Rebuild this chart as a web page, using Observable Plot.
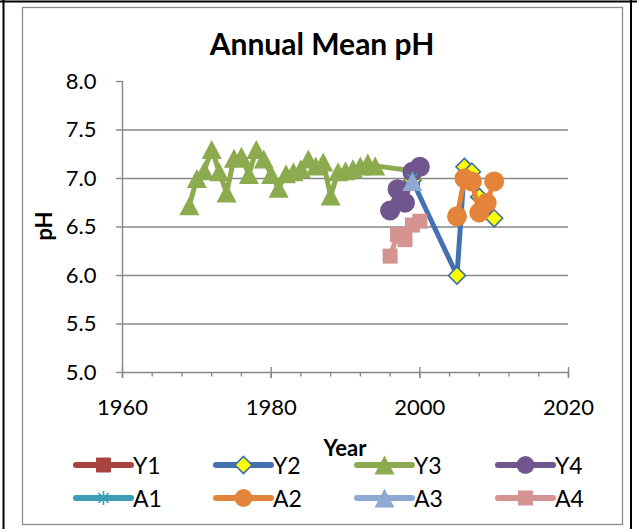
<!DOCTYPE html>
<html><head><meta charset="utf-8">
<script src="https://cdn.jsdelivr.net/npm/d3@7"></script>
<script src="https://cdn.jsdelivr.net/npm/@observablehq/plot@0.6"></script>
<style>
body{margin:0;background:#fff}
#wrap{position:relative;width:637px;height:529px;overflow:hidden;font-family:Lato,sans-serif}
#wrap svg{position:absolute;left:0;top:0}
</style></head><body><div id="wrap"></div>
<script>
// ---- data ----
const seriesNames = ["Y1","Y2","Y3","Y4","A1","A2","A3","A4"];
const y1Years = [1999];
const y1PH    = [6.98];
const y2Years = [1999, 2005, 2006, 2007, 2008, 2010];
const y2PH    = [6.98, 6.00, 7.12, 7.07, 6.81, 6.59];
const y3Years = [1969,1970,1971,1972,1973,1974,1975,1976,1977,1978,1979,1980,1981,1982,1983,1984,1985,1986,1987,1988,1989,1990,1991,1992,1993,1994,1999];
const y3PH    = [6.72,7.00,7.08,7.30,7.07,6.85,7.21,7.23,7.04,7.30,7.20,7.04,6.90,7.05,7.07,7.10,7.20,7.13,7.17,6.82,7.07,7.08,7.10,7.13,7.16,7.13,7.08];
const y4Years = [1996, 1997, 1998, 1999, 2000];
const y4PH    = [6.67, 6.89, 6.75, 7.07, 7.12];
const a1Years = [1999];
const a1PH    = [7.00];
const a2Years = [2005, 2006, 2007, 2008, 2009, 2010];
const a2PH    = [6.61, 7.00, 6.97, 6.65, 6.75, 6.97];
const a3Years = [1999];
const a3PH    = [6.97];
const a4Years = [1996, 1997, 1998, 1999, 2000];
const a4PH    = [6.20, 6.42, 6.37, 6.52, 6.56];
const xTickLabels = [1960, 1980, 2000, 2020];
const xMinorTicks = [1964,1968,1972,1976,1984,1988,1992,1996,2004,2008,2012,2016];
const yTickLabels = [5.0, 5.5, 6.0, 6.5, 7.0, 7.5, 8.0];
const yGridLines  = [5.5, 6.0, 6.5, 7.0, 7.5];
const titleText = "Annual Mean pH";
const xLabel = "Year";
const yLabel = "pH";

// ---- symbols ----
const rad = s => Math.sqrt(s / Math.PI);
const SYM = {
  square: {draw(c, s){const r = rad(s); c.rect(-r, -r, 2*r, 2*r);}},
  diamond:{draw(c, s){const r = rad(s); c.moveTo(0,-r); c.lineTo(r,0); c.lineTo(0,r); c.lineTo(-r,0); c.closePath();}},
  triangle:{draw(c, s){const r = rad(s); c.moveTo(0,-r*0.95); c.lineTo(r,r*0.95); c.lineTo(-r,r*0.95); c.closePath();}},
  circle: {draw(c, s){const r = rad(s); c.moveTo(r,0); c.arc(0,0,r,0,2*Math.PI);}},
  asterisk:{draw(c, s){const r = rad(s); const d = r*0.72;
    c.moveTo(0,-r); c.lineTo(0,r); c.moveTo(-d,-d); c.lineTo(d,d); c.moveTo(-d,d); c.lineTo(d,-d);}}
};

// ---- styles ----
const styles = {
  Y1:{line:"#A9433F", symbol:"square",  r:7,   fill:"#A9433F", stroke:"#A9433F", sw:1},
  Y2:{line:"#4472B1", symbol:"diamond", r:8.5, fill:"#FFFF00", stroke:"#3C6DAE", sw:1.6},
  Y3:{line:"#8CAA4E", symbol:"triangle",r:10,  fill:"#8CAA4E", stroke:"none",    sw:0},
  Y4:{line:"#70558F", symbol:"circle",  r:10,  fill:"#70558F", stroke:"none",    sw:0},
  A1:{line:"#3D9DB6", symbol:"asterisk",r:7,   fill:"none",    stroke:"#3D9DB6", sw:1.6},
  A2:{line:"#E3843A", symbol:"circle",  r:10,  fill:"#E3843A", stroke:"none",    sw:0},
  A3:{line:"#8EAAD3", symbol:"triangle",r:10,  fill:"#8EAAD3", stroke:"none",    sw:0},
  A4:{line:"#D59391", symbol:"square",  r:7.5, fill:"#D59391", stroke:"none",    sw:0}
};
const seriesData = {
  Y1:[y1Years,y1PH], Y2:[y2Years,y2PH], Y3:[y3Years,y3PH], Y4:[y4Years,y4PH],
  A1:[a1Years,a1PH], A2:[a2Years,a2PH], A3:[a3Years,a3PH], A4:[a4Years,a4PH]
};

const grey = "#878787";
const seriesMarks = seriesNames.flatMap(name => {
  const [yrs, vals] = seriesData[name];
  const st = styles[name];
  const rows = yrs.map((y, i) => ({year: y, ph: vals[i], series: name}));
  return [
    Plot.line(rows, {x:"year", y:"ph", stroke: st.line, strokeWidth: 5, strokeLinejoin:"round", strokeLinecap:"round"}),
    Plot.dot(rows, {x:"year", y:"ph", symbol: SYM[st.symbol], r: st.r, fill: st.fill, stroke: st.stroke, strokeWidth: st.sw})
  ];
});

const chart = Plot.plot({
  width: 637, height: 529,
  marginLeft: 122, marginRight: 69, marginTop: 81, marginBottom: 157,
  x: {domain: [1960, 2020]},
  y: {domain: [5, 8]},
  style: {fontFamily: "Lato, sans-serif", background: "transparent", color: "#000", overflow: "visible"},
  marks: [
    Plot.ruleY(yGridLines, {stroke: grey, strokeWidth: 1.4}),
    Plot.ruleY([5], {stroke: grey, strokeWidth: 1.4}),
    Plot.ruleX([1960], {stroke: grey, strokeWidth: 1.4}),
    Plot.axisY({ticks: yTickLabels, tickFormat: d3.format(".1f"), tickSize: 6, tickPadding: 20, fontSize: 22, stroke: grey, strokeWidth: 1.4, label: null}),
    Plot.axisX({ticks: xTickLabels, tickFormat: d => String(d), tickSize: 6, tickPadding: 21, fontSize: 22, stroke: grey, strokeWidth: 1.4, label: null}),
    Plot.axisX({ticks: xTickLabels, tickFormat: () => "", tickSize: 11, dy: -5, stroke: grey, strokeWidth: 1.4, label: null}),
    Plot.axisX({ticks: xMinorTicks, tickFormat: () => "", tickSize: 4.5, stroke: grey, strokeWidth: 1.4, label: null}),
    ...seriesMarks
  ]
});

const wrap = document.getElementById("wrap");
wrap.appendChild(chart);

// ---- overlay: frame, title, axis titles, legend ----
const ov = d3.select(wrap).append("svg").attr("width", 637).attr("height", 529)
  .style("font-family", "Lato, sans-serif");
ov.append("line").attr("x1",0).attr("x2",637).attr("y1",1.5).attr("y2",1.5).attr("stroke","#000").attr("stroke-width",2);
ov.append("line").attr("x1",3.5).attr("x2",3.5).attr("y1",0).attr("y2",529).attr("stroke","#000").attr("stroke-width",2);
ov.append("line").attr("x1",631).attr("x2",631).attr("y1",0).attr("y2",529).attr("stroke","#000").attr("stroke-width",2);
ov.append("rect").attr("x",22.5).attr("y",7.5).attr("width",600).attr("height",517)
  .attr("fill","none").attr("stroke","#8c8c8c").attr("stroke-width",1.3);

ov.append("text").attr("x",322).attr("y",55).attr("text-anchor","middle")
  .attr("font-size",30).attr("font-weight","bold").text(titleText);
ov.append("text").attr("transform","translate(43,226) rotate(-90)").attr("text-anchor","middle")
  .attr("dominant-baseline","central").attr("font-size",22).attr("font-weight","bold").text(yLabel);
ov.append("text").attr("x",345).attr("y",447).attr("text-anchor","middle")
  .attr("dominant-baseline","central").attr("font-size",22).attr("font-weight","bold").text(xLabel);

const legCols = [76, 216, 357, 498];
const legRows = [465, 498];
seriesNames.forEach((name, i) => {
  const st = styles[name];
  const x0 = legCols[i % 4], y0 = legRows[Math.floor(i / 4)];
  const g = ov.append("g").attr("transform", `translate(${x0},${y0})`);
  g.append("line").attr("x1",0).attr("x2",55).attr("y1",0).attr("y2",0)
    .attr("stroke", st.line).attr("stroke-width",6).attr("stroke-linecap","round");
  g.append("path").attr("transform","translate(27.5,0)")
    .attr("d", d3.symbol().type(SYM[st.symbol]).size(Math.PI * st.r * st.r * (st.symbol === "circle" ? 0.81 : 1))())
    .attr("fill", st.fill).attr("stroke", st.stroke).attr("stroke-width", st.sw);
  g.append("text").attr("x",57).attr("y",0).attr("dominant-baseline","central")
    .attr("font-size",23).text(name);
});
</script>
</body></html>
